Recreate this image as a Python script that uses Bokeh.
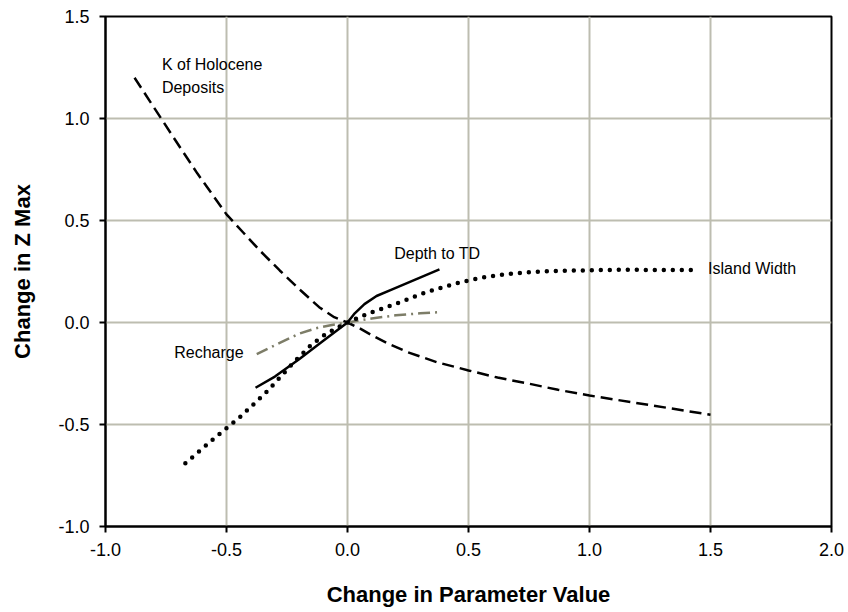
from bokeh.plotting import figure
from bokeh.models import Range1d, FixedTicker, PrintfTickFormatter
from bokeh.core.properties import value
from bokeh.embed import file_html
from bokeh.resources import INLINE

# Sensitivity curves: change in parameter value vs. change in Z max
k_holocene_x = [-0.88, -0.77, -0.69, -0.62, -0.56, -0.50, -0.43, -0.36, -0.28, -0.193, -0.117, -0.055, 0.0,
                0.05, 0.10, 0.17, 0.25, 0.37, 0.50, 0.62, 0.75, 0.87, 1.00, 1.25, 1.50]
k_holocene_y = [1.20, 1.00, 0.855, 0.73, 0.63, 0.53, 0.44, 0.35, 0.255, 0.157, 0.075, 0.026, 0.0,
                -0.028, -0.062, -0.105, -0.146, -0.195, -0.235, -0.27, -0.30, -0.33, -0.358, -0.405, -0.452]

depth_td_x = [-0.38, -0.30, -0.20, -0.10, 0.0, 0.03, 0.07, 0.12, 0.18, 0.28, 0.38]
depth_td_y = [-0.32, -0.265, -0.18, -0.09, 0.0, 0.045, 0.09, 0.13, 0.16, 0.21, 0.26]

island_width_x = [-0.67, -0.55, -0.44, -0.33, -0.226, -0.15, -0.10, -0.05, 0.0, 0.05, 0.10, 0.15, 0.20, 0.25,
                  0.30, 0.35, 0.40, 0.45, 0.50, 0.55, 0.60, 0.65, 0.70, 0.75, 0.80, 0.90, 1.00, 1.10, 1.20, 1.45]
island_width_y = [-0.69, -0.567, -0.459, -0.335, -0.20, -0.11, -0.065, -0.03, 0.0, 0.026, 0.05, 0.07, 0.092, 0.114,
                  0.138, 0.158, 0.175, 0.192, 0.206, 0.219, 0.228, 0.236, 0.242, 0.247, 0.25, 0.254, 0.256, 0.258, 0.258, 0.257]

recharge_x = [-0.375, -0.28, -0.20, -0.13, -0.07, 0.0, 0.10, 0.20, 0.30, 0.37]
recharge_y = [-0.155, -0.10, -0.055, -0.028, -0.013, 0.0, 0.02, 0.035, 0.045, 0.05]

x_ticks = [-1.0, -0.5, 0.0, 0.5, 1.0, 1.5, 2.0]
y_ticks = [-1.0, -0.5, 0.0, 0.5, 1.0, 1.5]

FONT = "Liberation Sans"

p = figure(width=848, height=612, output_backend="svg", toolbar_location=None,
           x_range=Range1d(-1.0, 2.0), y_range=Range1d(-1.0, 1.5))
p.min_border_left = 105
p.min_border_right = 17
p.min_border_top = 16
p.min_border_bottom = 86
p.background_fill_color = "white"
p.border_fill_color = "white"
p.outline_line_color = "black"
p.outline_line_width = 2

# grid
for g, ticks in ((p.xgrid, x_ticks), (p.ygrid, y_ticks)):
    g.ticker = FixedTicker(ticks=ticks)
    g.grid_line_color = "#bdbdb0"
    g.grid_line_width = 2

# axes
for ax, ticks in ((p.xaxis, x_ticks), (p.yaxis, y_ticks)):
    ax.ticker = FixedTicker(ticks=ticks)
    ax.formatter = PrintfTickFormatter(format="%.1f")
    ax.minor_tick_line_color = None
    ax.major_tick_in = 0
    ax.major_tick_out = 6
    ax.major_tick_line_color = "black"
    ax.major_tick_line_width = 2
    ax.axis_line_color = "black"
    ax.axis_line_width = 2
    ax.major_label_text_font = FONT
    ax.major_label_text_font_size = "18px"
    ax.major_label_text_color = "black"
    ax.axis_label_text_font = FONT
    ax.axis_label_text_font_size = "22px"
    ax.axis_label_text_font_style = "bold"
    ax.axis_label_text_color = "black"

p.xaxis.axis_label = "Change in Parameter Value"
p.yaxis.axis_label = "Change in Z Max"
p.xaxis.major_label_standoff = 10
p.yaxis.major_label_standoff = 10
p.xaxis.axis_label_standoff = 23
p.yaxis.axis_label_standoff = 20

# curves
p.line(k_holocene_x, k_holocene_y, line_color="black", line_width=2.5, line_dash="12 6")
p.line(recharge_x, recharge_y, line_color="#7d7d68", line_width=2.5, line_dash="12 5 2 5")
p.line(depth_td_x, depth_td_y, line_color="black", line_width=2.5)
p.line(island_width_x, island_width_y, line_color="black", line_width=4.5,
       line_dash="0 9", line_cap="round")

# curve labels
label_kw = dict(text_font=value(FONT), text_font_size="16px", text_color="black",
                text_baseline="middle", text_align="left")
p.text(x=[-0.767, -0.767], y=[1.265, 1.152], text=["K of Holocene", "Deposits"], **label_kw)
p.text(x=[0.193], y=[0.337], text=["Depth to TD"], **label_kw)
p.text(x=[1.49], y=[0.263], text=["Island Width"], **label_kw)
p.text(x=[-0.716], y=[-0.146], text=["Recharge"], **label_kw)

open("out.html", "w").write(file_html(p, INLINE))
